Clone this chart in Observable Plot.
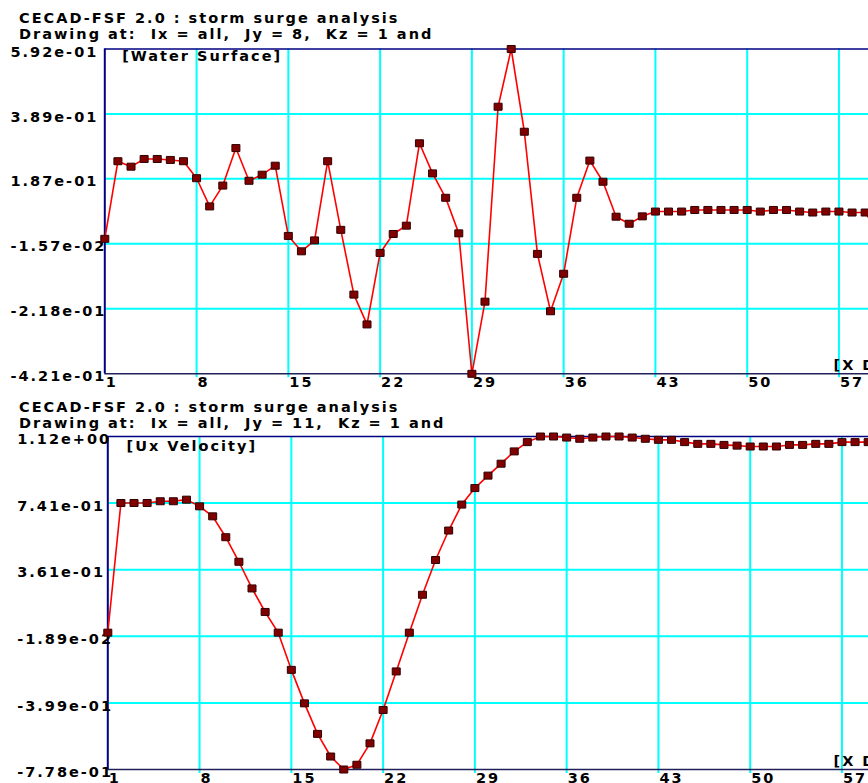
<!DOCTYPE html>
<html><head><meta charset="utf-8">
<script src="https://cdn.jsdelivr.net/npm/d3@7"></script>
<script src="https://cdn.jsdelivr.net/npm/@observablehq/plot@0.6"></script>
<style>
html,body{margin:0;padding:0;background:#fff;overflow:hidden;}
#root{position:relative;width:868px;height:783px;overflow:hidden;background:#fff;}
.t{position:absolute;font:bold 14.5px "DejaVu Sans";letter-spacing:2px;white-space:pre;color:#000;line-height:1;}
.p{position:absolute;left:0;}
</style></head><body><div id="root"></div>
<script>
// ---- data ----
const titleLine1 = "CECAD-FSF 2.0 : storm surge analysis";
const wsSubtitle = "Drawing at:  Ix = all,  Jy = 8,  Kz = 1 and";
const uxSubtitle = "Drawing at:  Ix = all,  Jy = 11,  Kz = 1 and";
const wsLabel = "[Water Surface]";
const uxLabel = "[Ux Velocity]";
const xAxisLabel = "[X D";
const xTicks = [1, 8, 15, 22, 29, 36, 43, 50, 57];
const wsTicks = [0.592, 0.389, 0.187, -0.0157, -0.218, -0.421];
const wsTickLabels = ["5.92e-01", "3.89e-01", "1.87e-01", "-1.57e-02", "-2.18e-01", "-4.21e-01"];
const uxTicks = [1.12, 0.741, 0.361, -0.0189, -0.399, -0.778];
const uxTickLabels = ["1.12e+00", "7.41e-01", "3.61e-01", "-1.89e-02", "-3.99e-01", "-7.78e-01"];
const ix = d3.range(1, 61);
const waterSurface = [
  0.000, 0.242, 0.225, 0.249, 0.249, 0.246, 0.242, 0.189, 0.101, 0.166,
  0.283, 0.181, 0.200, 0.228, 0.009, -0.039, -0.005, 0.242, 0.028, -0.174,
  -0.267, -0.044, 0.015, 0.041, 0.298, 0.204, 0.128, 0.017, -0.421, -0.196,
  0.412, 0.592, 0.334, -0.047, -0.226, -0.109, 0.128, 0.244, 0.178, 0.069,
  0.047, 0.070, 0.085, 0.085, 0.085, 0.090, 0.090, 0.090, 0.090, 0.090,
  0.085, 0.090, 0.090, 0.085, 0.082, 0.085, 0.085, 0.082, 0.082, 0.020
];
const uxVelocity = [
  0.002, 0.741, 0.741, 0.741, 0.751, 0.751, 0.760, 0.722, 0.665, 0.546,
  0.406, 0.254, 0.120, 0.002, -0.210, -0.401, -0.575, -0.704, -0.778, -0.751,
  -0.629, -0.439, -0.219, 0.002, 0.218, 0.416, 0.584, 0.732, 0.826, 0.897,
  0.965, 1.035, 1.088, 1.120, 1.120, 1.114, 1.107, 1.114, 1.120, 1.120,
  1.114, 1.107, 1.101, 1.101, 1.088, 1.078, 1.078, 1.072, 1.068, 1.063,
  1.063, 1.063, 1.072, 1.072, 1.078, 1.078, 1.088, 1.088, 1.088, 1.088
];

// ---- drawing ----
const root = document.getElementById("root");
const W = 868, pxPerUnit = 13.11;
const rectSymbol = {draw(ctx) { ctx.rect(-4, -3.5, 8, 7); }};

function panel({values, ticks, tickLabels, label, top, height, marginTop, marginBottom, marginLeft, tickLabelLeft, labelDx, labelDy, subtitle, titleTop}) {
  const data = ix.map((x, i) => ({x, v: values[i]}));
  const yDomain = [d3.min(ticks), d3.max(ticks)];
  const xDomain = [1, 1 + (W - marginLeft) / pxPerUnit];
  const font = {fontFamily: "DejaVu Sans", fontWeight: "bold", fontSize: 14.5};
  const svg = Plot.plot({
    width: W, height, marginTop, marginBottom, marginLeft, marginRight: 0,
    style: {background: "none", fontFamily: "DejaVu Sans", fontWeight: "bold", fontSize: "14.5px", letterSpacing: "2px", color: "#000"},
    x: {domain: xDomain, label: null},
    y: {domain: yDomain, label: null},
    marks: [
      Plot.gridY(ticks.filter(t => t !== yDomain[0] && t !== yDomain[1]), {stroke: "#00ffff", strokeOpacity: 1, strokeWidth: 2}),
      Plot.gridX(xTicks.slice(1), {stroke: "#00ffff", strokeOpacity: 1, strokeWidth: 2, insetBottom: -4}),
      Plot.ruleY([yDomain[1]], {stroke: "#000080", strokeWidth: 1.5}),
      Plot.ruleY([yDomain[0]], {stroke: "#20205a", strokeWidth: 1.5}),
      Plot.ruleX([1], {stroke: "#000080", strokeWidth: 2}),
      Plot.axisY(ticks, {label: null, tickSize: 0, tickPadding: 0, textAnchor: "start", dx: tickLabelLeft - marginLeft, dy: 3,
        tickFormat: d => tickLabels[ticks.indexOf(d)], ...font}),
      Plot.axisX(xTicks, {label: null, tickSize: 0, tickPadding: 0, textAnchor: "start", dx: 1, dy: 3, tickFormat: d => String(d), ...font}),
      Plot.text([label], {frameAnchor: "top-left", dx: labelDx, dy: labelDy, lineAnchor: "top", textAnchor: "start", ...font}),
      Plot.text([xAxisLabel], {frameAnchor: "bottom-right", dx: -35, dy: -4, lineAnchor: "bottom", textAnchor: "start", ...font}),
      Plot.line(data, {x: "x", y: "v", stroke: "#ff0000", strokeWidth: 1.6}),
      Plot.dot(data, {x: "x", y: "v", symbol: rectSymbol, fill: "#800000", stroke: "#300000", strokeWidth: 1})
    ]
  });
  svg.classList.add("p");
  svg.style.top = top + "px";
  root.appendChild(svg);
  const t1 = document.createElement("div");
  t1.className = "t"; t1.textContent = titleLine1;
  t1.style.left = "19px"; t1.style.top = titleTop + "px";
  root.appendChild(t1);
  const t2 = document.createElement("div");
  t2.className = "t"; t2.textContent = subtitle;
  t2.style.left = "19px"; t2.style.top = (titleTop + 16) + "px";
  root.appendChild(t2);
}

panel({values: waterSurface, ticks: wsTicks, tickLabels: wsTickLabels, label: wsLabel,
  top: 40, height: 355, marginTop: 8.5, marginBottom: 21.7, marginLeft: 104.3, tickLabelLeft: 10,
  labelDx: 17.4, labelDy: 2, subtitle: wsSubtitle, titleTop: 11});
panel({values: uxVelocity, ticks: uxTicks, tickLabels: uxTickLabels, label: uxLabel,
  top: 428, height: 355, marginTop: 8, marginBottom: 14, marginLeft: 107.3, tickLabelLeft: 16.7,
  labelDx: 18.7, labelDy: 4, subtitle: uxSubtitle, titleTop: 399.5});
</script></body></html>
